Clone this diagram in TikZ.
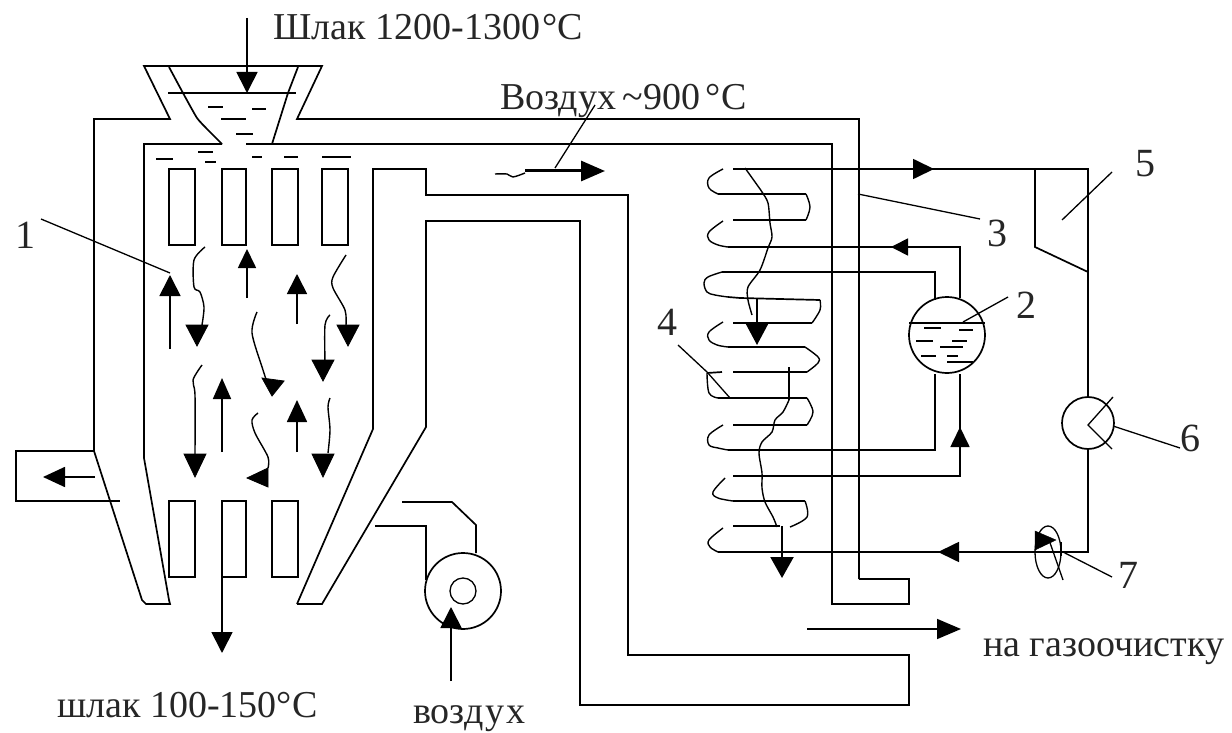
\documentclass[tikz,border=0pt]{standalone}
\usepackage{fontspec}
\setmainfont{Liberation Serif}
\usetikzlibrary{arrows.meta}
\tikzset{
  x=1pt,y=-1pt,
  wall/.style={line width=1.7pt,line join=miter},
  thin line/.style={line width=1.3pt},
  wave/.style={line width=1.4pt},
  bigtip/.style={-{Triangle[length=21pt,width=21pt]},line width=1.7pt},
  label text/.style={inner sep=0pt,font=\fontsize{38}{38}\selectfont,text=black!85},
  num text/.style={inner sep=0pt,font=\fontsize{40}{40}\selectfont,text=black!85},
}
\newcommand{\wavy}[1]{\draw[wave] plot[smooth,tension=0.5] coordinates {#1};}
\begin{document}
\begin{tikzpicture}
\useasboundingbox (0,0) rectangle (1232,733);
\fill[white] (0,0) rectangle (1232,733);
% hopper and outer casing
\draw[wall] (859,579)--(859,119)--(297,119)--(322,66)--(144,66)--(170,119)--(94,119)--(94,451)--(142,600)--(146,604)--(170,604)--(169,600)--(144,458)--(144,144)--(222,144);
\draw[wall] (246,144)--(832,144)--(832,604)--(909,604)--(909,579)--(859,579);
\draw[wall] plot[smooth,tension=0.3] coordinates {(169,67)(183,93)(197,118)(208,130)(222,144)};
\draw[wall] (298,67)--(288,93)--(272,144);
\draw[wall] (168,93)--(296,93);
\foreach \a/\b/\y in {208/223/107,252/266/109,221/246/119,236/253/134,156/173/159,198/213/152,205/216/162,252/262/157,284/298/157,322/351/157}
  \draw[wall] (\a,\y)--(\b,\y);
% grates
\foreach \a/\b in {169/195,222/246,272/298,322/348} \draw[wall] (\a,169) rectangle (\b,245);
\foreach \a/\b in {169/195,222/246,272/298} \draw[wall] (\a,501) rectangle (\b,577);
% right chamber wall and duct
\draw[wall] (297,604)--(322,604)--(426,427)--(426,221)--(580,221)--(580,705)--(909,705)--(909,655)--(628,655)--(628,195)--(426,195)--(426,169)--(373,169)--(373,429)--(297,604);
% left outlet
\draw[wall] (94,451)--(16,451)--(16,501)--(120,501);
\draw[-{Triangle[length=22pt,width=20pt]},line width=1.7pt] (95,477)--(43,477);
% fan
\draw[wall] (463,591) circle (38pt);
\draw[thin line] (463,591) circle (13pt);
\draw[wall] (375,526)--(426,526)--(426,580);
\draw[wall] (402,502)--(452,502)--(476,525)--(476,553);
\draw[bigtip] (451,681)--(451,607);
% straight chamber arrows
\draw[bigtip] (247,18)--(247,93);
\draw[bigtip] (222,577)--(222,653);
\draw[bigtip] (170,349)--(170,275);
\draw[-{Triangle[length=19pt,width=18pt]},line width=1.7pt] (247,298)--(247,249);
\draw[-{Triangle[length=20pt,width=20pt]},line width=1.7pt] (297,324)--(297,274);
\draw[-{Triangle[length=21pt,width=18pt]},line width=1.7pt] (222,452)--(222,378);
\draw[-{Triangle[length=22pt,width=20pt]},line width=1.7pt] (297,452)--(297,400);
% wavy chamber arrows
\wavy{(205,247)(194,260)(194,287)(200,292)(204,307)(202,325)}
\draw[fill=black,thick] (186,325)--(208,325)--(197,346)--cycle;
\wavy{(346,255)(333,277)(333,288)(345,310)(346,325)}
\draw[fill=black,thick] (337,325)--(359,325)--(348,346)--cycle;
\wavy{(257,312)(252,333)(263,370)(268,385)}
\draw[fill=black,thick] (262,378)--(284,381)--(272,396)--cycle;
\wavy{(330,315)(325,325)(325,363)}
\draw[fill=black,thick] (312,360)--(334,360)--(323,381)--cycle;
\wavy{(202,365)(193,380)(195,395)(195,455)}
\draw[fill=black,thick] (184,454)--(206,454)--(195,477)--cycle;
\wavy{(330,398)(328,407)(330,430)(328,453)}
\draw[fill=black,thick] (312,454)--(334,454)--(323,477)--cycle;
\wavy{(258,413)(252,420)(255,433)(268,457)(268,468)}
\draw[fill=black,thick] (268,468)--(268,487)--(247,478)--cycle;
% hot air arrow
\wavy{(495,174)(507,174)(513,177)(525,173)}
\draw[line width=3pt,-{Triangle[length=24pt,width=20pt]}] (525,171)--(605,171);
\draw[thin line] (555,168)--(595,105);
% steam circuit lines
\draw[wall] (733,169)--(1088,169)--(1088,397);
\draw[wall] (1035,169)--(1035,247)--(1088,272);
\draw[wall] (1088,449)--(1088,552)--(718,552);
\draw[-{Triangle[length=21pt,width=20pt]},line width=1.7pt] (900,169)--(934,169);
\draw[-{Triangle[length=21pt,width=20pt]},line width=1.7pt] (960,552)--(938,552);
% coils
\draw[wave] plot[smooth,tension=0.6] coordinates {(723,169)(709,178)(709,188)(718,194)};
\draw[wall] (718,194)--(806,194);
\draw[wave] plot[smooth,tension=0.6] coordinates {(806,194)(810,207)(806,220)};
\draw[wall] (733,220)--(806,220);
\draw[wave] plot[smooth,tension=0.6] coordinates {(723,221)(709,232)(709,240)(718,245)(728,247)};
\draw[wall] (728,247)--(960,247)--(960,298);
\draw[-{Triangle[length=17pt,width=17pt]},line width=1.7pt] (915,247)--(891,247);
\draw[wall] (935,300)--(935,272)--(722,272);
\draw[wave] plot[smooth,tension=0.6] coordinates {(722,272)(708,277)(704,283)(707,292)(715,295)(728,297)};
\draw[wall] (728,297)--(740,298)--(820,300);
\draw[wave] plot[smooth,tension=0.6] coordinates {(820,300)(820,310)(812,323)};
\draw[wall] (733,323)--(812,323);
\draw[wave] plot[smooth,tension=0.6] coordinates {(723,322)(709,332)(709,340)(717,345)(728,347)};
\draw[wall] (728,347)--(805,347);
\draw[wave] plot[smooth,tension=0.6] coordinates {(805,347)(818,357)(818,363)(807,372)};
\draw[wall] (733,372)--(807,372);
\draw[wave] plot[smooth,tension=0.6] coordinates {(707,373)(709,393)(718,398)};
\draw[wall] (707,373)--(722,372);
\draw[wall] (718,398)--(807,398);
\draw[wave] plot[smooth,tension=0.6] coordinates {(807,398)(813,412)(807,425)};
\draw[wall] (733,425)--(807,425);
\draw[wave] plot[smooth,tension=0.6] coordinates {(723,425)(709,435)(709,445)(718,448)(728,450)};
\draw[wall] (728,450)--(935,450)--(935,374);
\draw[wall] (733,476)--(960,476)--(960,374);
\draw[-{Triangle[length=20pt,width=19pt]},line width=1.7pt] (960,449)--(960,427);
\draw[wave] plot[smooth,tension=0.6] coordinates {(725,478)(713,492)(718,498)(733,501)};
\draw[wall] (733,501)--(805,501);
\draw[wave] plot[smooth,tension=0.6] coordinates {(805,501)(807,517)(790,527)};
\draw[wall] (733,526)--(780,526);
\draw[wave] plot[smooth,tension=0.6] coordinates {(723,528)(709,540)(710,547)(718,552)};
% flue gas waves through coils
\wavy{(745,168)(755,182)(762,192)(768,203)(770,223)(772,237)(768,248)(760,270)(748,287)(748,300)(752,315)}
\draw[-{Triangle[length=22pt,width=23pt]},line width=1.7pt] (757,298)--(757,345);
\draw[wall] (789,367)--(789,400);
\wavy{(789,400)(783,412)(775,420)(772,432)(762,442)(759,453)(762,473)(762,488)(765,502)(773,517)(777,527)}
\draw[-{Triangle[length=21pt,width=23pt]},line width=2.2pt] (782,526)--(782,578);
% drum 2
\draw[wall] (947,335) circle (38pt);
\draw[wall] (909,323)--(985,323);
\foreach \a/\b/\y in {924/941/328,959/973/330,916/933/341,952/967/341,940/963/347,921/936/356,947/958/356,947/973/362}
  \draw[thin line] (\a,\y)--(\b,\y);
\draw[thin line] (963,322)--(1008,297);
% leaders
\draw[thin line] (41,219)--(170,273);
\draw[thin line] (858,194)--(980,219);
\draw[thin line] (678,345)--(707,372)--(730,398);
\draw[thin line] (1062,220)--(1112,172);
% fan 6
\draw[wall] (1088,423) circle (26pt);
\draw[thin line] (1113,397)--(1088,425)--(1112,449);
\draw[thin line] (1113,426)--(1180,448);
% valve 7
\draw[thin line] (1048,552) ellipse (13pt and 26pt);
\draw[wall] (1061,542)--(1061,556);
\draw[thin line] (1048,537)--(1063,580);
\draw[fill=black] (1035,531)--(1056,540)--(1035,550)--cycle;
\draw[thin line] (1063,552)--(1112,577);
% gas cleaning arrow
\draw[-{Triangle[length=24pt,width=20pt]},line width=1.7pt] (807,629)--(961,629);
% labels
\node[label text,anchor=base west] (t1) at (273,40) {Шлак 1200-1300\kern3pt°\kern-1ptC};
\node[label text,anchor=base west] (t2) at (500,110) {Воздух \kern-3pt\textasciitilde 900\kern5pt°\kern1ptC};
\node[label text,anchor=base west] (t3) at (983,656) {на газоочистку};
\node[label text,anchor=base west] (t4) at (57,717) {шлак 100-150°C};
\node[label text,anchor=base west] (t5) at (413,723) {возд\kern2ptу\kern2ptх};
\node[num text] (n1) at (26,235) {1};
\node[num text] (n2) at (1026,305) {2};
\node[num text] (n3) at (997,233) {3};
\node[num text] (n4) at (667,322) {4};
\node[num text] (n5) at (1145,164) {5};
\node[num text] (n6) at (1190,438) {6};
\node[num text] (n7) at (1128,575) {7};
\end{tikzpicture}
\end{document}
